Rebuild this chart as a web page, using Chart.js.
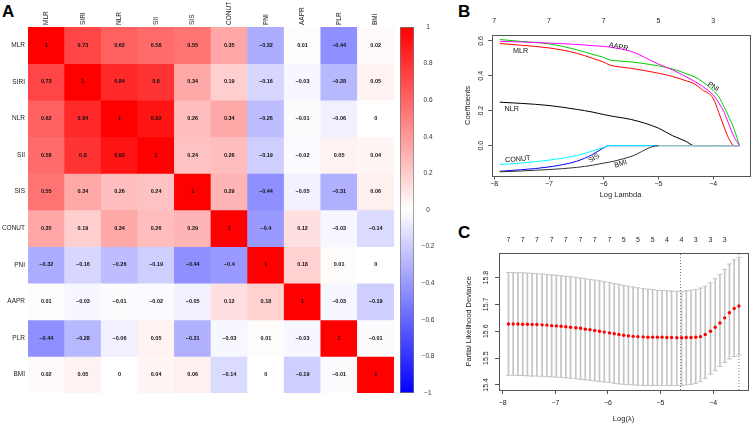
<!DOCTYPE html>
<html>
<head>
<meta charset="utf-8">
<script src="https://cdn.jsdelivr.net/npm/chart.js@4.4.1/dist/chart.umd.min.js"></script>
<style>
  body { margin: 0; background: #fff; width: 753px; height: 425px; overflow: hidden; position: relative; }
  canvas { position: absolute; }
  .tag { position: absolute; font: bold 17px "Liberation Sans", Arial, sans-serif; line-height: 17px; color: #000; }
</style>
</head>
<body>
<div class="tag" style="left:2px;top:3px">A</div>
<div class="tag" style="left:458px;top:3px">B</div>
<div class="tag" style="left:458px;top:224px">C</div>
<canvas id="heat" width="400" height="425" style="left:0;top:0"></canvas>
<canvas id="legend" width="55" height="425" style="left:395px;top:0"></canvas>
<canvas id="path" width="303" height="212" style="left:450px;top:0"></canvas>
<canvas id="cv" width="303" height="210" style="left:450px;top:215px"></canvas>
<script>
// ---- panel A: correlation matrix ----
const vars = ['MLR', 'SIRI', 'NLR', 'SII', 'SIS', 'CONUT', 'PNI', 'AAPR', 'PLR', 'BMI'];
const corr = [
  [1, 0.73, 0.62, 0.58, 0.55, 0.35, -0.32, 0.01, -0.44, 0.02],
  [0.73, 1, 0.84, 0.8, 0.34, 0.19, -0.16, -0.03, -0.28, 0.05],
  [0.62, 0.84, 1, 0.92, 0.26, 0.34, -0.26, -0.01, -0.06, 0],
  [0.58, 0.8, 0.92, 1, 0.24, 0.26, -0.19, -0.02, 0.05, 0.04],
  [0.55, 0.34, 0.26, 0.24, 1, 0.29, -0.44, -0.05, -0.31, 0.06],
  [0.35, 0.19, 0.34, 0.26, 0.29, 1, -0.4, 0.12, -0.03, -0.14],
  [-0.32, -0.16, -0.26, -0.19, -0.44, -0.4, 1, 0.18, 0.01, 0],
  [0.01, -0.03, -0.01, -0.02, -0.05, 0.12, 0.18, 1, -0.03, -0.19],
  [-0.44, -0.28, -0.06, 0.05, -0.31, -0.03, 0.01, -0.03, 1, -0.01],
  [0.02, 0.05, 0, 0.04, 0.06, -0.14, 0, -0.19, -0.01, 1]
];

// ---- panel B: coefficient paths ----
const logLambda = [-7.9, -7.5, -7.0, -6.5, -6.2, -6.0, -5.9, -5.8, -5.5, -5.0, -4.75, -4.5, -4.35, -4.2, -4.0, -3.9, -3.8, -3.7, -3.62, -3.52];
const coefPNI   = [0.608, 0.597, 0.583, 0.550, 0.523, 0.505, 0.492, 0.487, 0.480, 0.457, 0.440, 0.413, 0.395, 0.367, 0.315, 0.280, 0.220, 0.155, 0.095, 0];
const coefAAPR  = [0.598, 0.594, 0.588, 0.580, 0.573, 0.569, 0.565, 0.560, 0.540, 0.467, 0.435, 0.395, 0.370, 0.340, 0.290, 0.245, 0.190, 0.110, 0.050, 0];
const coefMLR   = [0.585, 0.575, 0.560, 0.530, 0.500, 0.478, 0.463, 0.455, 0.443, 0.415, 0.397, 0.372, 0.355, 0.320, 0.270, 0.190, 0.105, 0.030, 0, 0];
const coefNLR   = [0.249, 0.242, 0.230, 0.208, 0.192, 0.178, 0.172, 0.166, 0.150, 0.100, 0.058, 0.025, 0, 0, 0, 0, 0, 0, 0, 0];
const coefCONUT = [-0.108, -0.100, -0.083, -0.057, -0.030, -0.010, 0, 0, 0, 0, 0, 0, 0, 0, 0, 0, 0, 0, 0, 0];
const coefSIS   = [-0.147, -0.138, -0.122, -0.090, -0.050, -0.012, 0, 0, 0, 0, 0, 0, 0, 0, 0, 0, 0, 0, 0, 0];
const coefBMI   = [-0.150, -0.145, -0.137, -0.125, -0.112, -0.100, -0.095, -0.088, -0.062, 0, 0, 0, 0, 0, 0, 0, 0, 0, 0, 0];
const pathTicks = [-8, -7, -6, -5, -4];
const pathDf = [7, 7, 7, 5, 3];

// ---- panel C: cross-validation ----
const cvLogLambda = [-7.89, -7.80, -7.71, -7.62, -7.53, -7.44, -7.35, -7.25, -7.16, -7.07,
  -6.98, -6.89, -6.80, -6.71, -6.61, -6.52, -6.43, -6.34, -6.25, -6.16,
  -6.07, -5.97, -5.88, -5.79, -5.70, -5.61, -5.52, -5.43, -5.33, -5.24,
  -5.15, -5.06, -4.97, -4.88, -4.79, -4.69, -4.60, -4.51, -4.42, -4.33,
  -4.24, -4.15, -4.05, -3.96, -3.87, -3.78, -3.69, -3.60, -3.51];
const cvMean = [15.627, 15.627, 15.627, 15.626, 15.626, 15.625, 15.625, 15.624, 15.623, 15.621,
  15.620, 15.619, 15.617, 15.615, 15.613, 15.611, 15.608, 15.606, 15.603, 15.600,
  15.597, 15.594, 15.591, 15.588, 15.585, 15.583, 15.581, 15.580, 15.579, 15.578,
  15.578, 15.578, 15.578, 15.577, 15.577, 15.576, 15.576, 15.577, 15.577, 15.578,
  15.580, 15.588, 15.600, 15.615, 15.631, 15.650, 15.669, 15.685, 15.694];
const cvUpper = [15.819, 15.819, 15.818, 15.818, 15.817, 15.816, 15.815, 15.813, 15.812, 15.810,
  15.809, 15.807, 15.805, 15.803, 15.801, 15.798, 15.796, 15.793, 15.791, 15.788,
  15.785, 15.782, 15.778, 15.775, 15.771, 15.768, 15.765, 15.762, 15.759, 15.757,
  15.755, 15.753, 15.752, 15.751, 15.750, 15.749, 15.749, 15.751, 15.753, 15.756,
  15.761, 15.768, 15.781, 15.796, 15.812, 15.831, 15.851, 15.866, 15.876];
const cvLower = [15.436, 15.436, 15.435, 15.435, 15.434, 15.433, 15.433, 15.432, 15.431, 15.430,
  15.429, 15.428, 15.426, 15.425, 15.423, 15.421, 15.419, 15.417, 15.415, 15.413,
  15.411, 15.409, 15.406, 15.404, 15.402, 15.401, 15.400, 15.399, 15.398, 15.398,
  15.398, 15.398, 15.398, 15.398, 15.398, 15.398, 15.398, 15.400, 15.402, 15.405,
  15.412, 15.424, 15.440, 15.453, 15.469, 15.484, 15.497, 15.506, 15.512];
const cvDf = [7, 7, 7, 7, 7, 7, 7, 7, 5, 5, 5, 4, 4, 3, 3, 3];
const cvTicks = [-8, -7, -6, -5, -4];
const cvYTicks = [15.4, 15.5, 15.6, 15.7, 15.8];
const lambdaMin = -4.62;
const lambda1se = -3.51;

Chart.defaults.font.family = '"Liberation Sans", Arial, sans-serif';
Chart.defaults.color = '#222';

const minus = v => (v < 0 ? '\u2212' : '') + String(Math.abs(Math.round(v * 100) / 100));

function corrColor(v) {
  const t = Math.round(255 * (1 - Math.abs(v)));
  return v >= 0 ? `rgb(255,${t},${t})` : `rgb(${t},${t},255)`;
}

const cellText = {
  id: 'cellText',
  afterDatasetsDraw(chart) {
    const ctx = chart.ctx;
    ctx.save();
    ctx.font = 'bold 5.5px "Liberation Sans", Arial, sans-serif';
    ctx.fillStyle = '#111';
    ctx.textAlign = 'center';
    ctx.textBaseline = 'middle';
    chart.data.datasets.forEach((ds, i) => {
      chart.getDatasetMeta(i).data.forEach((bar, j) => {
        ctx.fillText(minus(corr[i][j]), bar.x, (bar.y + bar.base) / 2);
      });
    });
    ctx.restore();
  }
};

const frame = {
  id: 'frame',
  afterDraw(chart) {
    const a = chart.chartArea, ctx = chart.ctx;
    ctx.save();
    ctx.strokeStyle = '#555';
    ctx.lineWidth = 1;
    ctx.strokeRect(Math.round(a.left) + 0.5, Math.round(a.top) + 0.5,
      Math.round(a.right - a.left), Math.round(a.bottom - a.top));
    ctx.restore();
  }
};

// heatmap: one stacked bar per row, one segment per cell
new Chart(document.getElementById('heat'), {
  type: 'bar',
  data: {
    labels: vars,
    datasets: corr.map((row, i) => ({
      label: vars[i],
      data: row.map(() => 1),
      backgroundColor: row.map(corrColor),
      borderWidth: 0,
      barPercentage: 1,
      categoryPercentage: 1
    }))
  },
  options: {
    responsive: false,
    animation: false,
    events: [],
    layout: { padding: { left: 0, top: 0, right: 6, bottom: 32 } },
    plugins: { legend: { display: false }, tooltip: { enabled: false } },
    scales: {
      x: {
        position: 'top',
        stacked: true,
        grid: { display: false, drawTicks: false },
        border: { display: false },
        ticks: { minRotation: 90, maxRotation: 90, padding: 2, labelOffset: 7.8, font: { size: 6.5 }, color: '#222' },
        afterFit: s => { s.height = 27; }
      },
      y: { display: false, stacked: true, min: 0, max: 10, reverse: true },
      yRow: {
        type: 'category',
        labels: vars,
        offset: true,
        position: 'left',
        grid: { display: false, drawTicks: false },
        border: { display: false },
        ticks: { padding: 3, font: { size: 6.5 }, color: '#222' },
        afterFit: s => { s.width = 28; }
      }
    }
  },
  plugins: [cellText]
});

// colour key
new Chart(document.getElementById('legend'), {
  type: 'bar',
  data: {
    labels: [''],
    datasets: [{
      data: [[-1, 1]],
      backgroundColor: c => {
        const a = c.chart.chartArea;
        if (!a) return '#fff';
        const g = c.chart.ctx.createLinearGradient(0, a.bottom, 0, a.top);
        g.addColorStop(0, '#0000ff');
        g.addColorStop(0.5, '#ffffff');
        g.addColorStop(1, '#ff0000');
        return g;
      },
      borderColor: '#777',
      borderWidth: 1,
      borderSkipped: false,
      barPercentage: 1,
      categoryPercentage: 1
    }]
  },
  options: {
    responsive: false,
    animation: false,
    events: [],
    layout: { padding: { left: 5, top: 27, right: 0, bottom: 32 } },
    plugins: { legend: { display: false }, tooltip: { enabled: false } },
    scales: {
      x: { display: false },
      y: {
        position: 'right',
        min: -1, max: 1,
        grid: { display: false, drawTicks: false },
        border: { display: false },
        ticks: { stepSize: 0.2, crossAlign: 'center', padding: 7.6, font: { size: 6.5 }, color: '#333',
          callback: v => minus(Math.round(v * 10) / 10) },
        afterFit: s => { s.width = 36; }
      }
    }
  }
});

// coefficient path labels, in data units
const pathNotes = [
  { text: 'MLR', x: -7.52, y: 0.544, rot: 0 },
  { text: 'AAPR', x: -5.73, y: 0.566, rot: 12 },
  { text: 'PNI', x: -4.00, y: 0.338, rot: 32 },
  { text: 'NLR', x: -7.68, y: 0.209, rot: 0 },
  { text: 'CONUT', x: -7.57, y: -0.078, rot: -5 },
  { text: 'SIS', x: -6.18, y: -0.072, rot: -30 },
  { text: 'BMI', x: -5.69, y: -0.105, rot: -18 }
];
const pathText = {
  id: 'pathText',
  afterDatasetsDraw(chart) {
    const ctx = chart.ctx, sx = chart.scales.x, sy = chart.scales.y;
    ctx.save();
    ctx.font = '7.2px "Liberation Sans", Arial, sans-serif';
    ctx.fillStyle = '#111';
    ctx.textAlign = 'center';
    ctx.textBaseline = 'middle';
    pathNotes.forEach(n => {
      ctx.save();
      ctx.translate(sx.getPixelForValue(n.x), sy.getPixelForValue(n.y));
      ctx.rotate(n.rot * Math.PI / 180);
      ctx.fillText(n.text, 0, 0);
      ctx.restore();
    });
    ctx.restore();
  }
};

const pathSeries = [
  { coef: coefBMI, color: '#333333', zeroColor: '#b4b4b4' },
  { coef: coefCONUT, color: '#00ffff' },
  { coef: coefSIS, color: '#0000ff' },
  { coef: coefNLR, color: '#000000' },
  { coef: coefMLR, color: '#ff0000' },
  { coef: coefAAPR, color: '#ff00ff' },
  { coef: coefPNI, color: '#00cd00' }
];

const axisGrid = { display: true, drawOnChartArea: false, drawTicks: true, tickLength: 3.5, color: '#555' };
const tickFont = { size: 7 };

new Chart(document.getElementById('path'), {
  type: 'line',
  data: {
    datasets: pathSeries.map(s => ({
      data: logLambda.map((x, i) => ({ x, y: s.coef[i] })),
      borderColor: s.color,
      borderWidth: 1,
      pointRadius: 0,
      cubicInterpolationMode: 'monotone',
      segment: s.zeroColor ? {
        borderColor: c => (c.p0.parsed.y === 0 && c.p1.parsed.y === 0) ? s.zeroColor : undefined
      } : undefined
    }))
  },
  options: {
    responsive: false,
    animation: false,
    events: [],
    layout: { padding: { left: 0, top: 0, right: 3.7, bottom: 0 } },
    plugins: { legend: { display: false }, tooltip: { enabled: false } },
    scales: {
      x: {
        type: 'linear', min: -8.047, max: -3.342,
        afterBuildTicks: s => { s.ticks = pathTicks.map(v => ({ value: v })); },
        grid: axisGrid,
        border: { display: false },
        ticks: { autoSkip: false, padding: 0.8, font: tickFont, callback: v => minus(v) },
        title: { display: true, text: 'Log Lambda', font: { size: 7.5 }, color: '#222', padding: { bottom: 12.5 } },
        afterFit: s => { s.height = 36; }
      },
      xTop: {
        type: 'linear', position: 'top', min: -8.047, max: -3.342,
        afterBuildTicks: s => { s.ticks = pathTicks.map(v => ({ value: v })); },
        grid: { display: false, drawTicks: false },
        border: { display: false },
        ticks: { autoSkip: false, padding: 9.8, font: tickFont, callback: (v, i) => String(pathDf[i]) },
        afterFit: s => { s.height = 35; }
      },
      y: {
        type: 'linear', min: -0.174, max: 0.634,
        afterBuildTicks: s => { s.ticks = [0, 0.2, 0.4, 0.6].map(v => ({ value: v })); },
        grid: axisGrid,
        border: { display: false },
        ticks: { autoSkip: false, minRotation: 90, maxRotation: 90, crossAlign: 'center', padding: 2.7, font: tickFont,
          callback: v => v.toFixed(1) },
        title: { display: true, text: 'Coefficients', font: { size: 7.5 }, color: '#222', padding: { top: 13.8 } },
        afterFit: s => { s.width = 41.7; }
      }
    }
  },
  plugins: [frame, pathText]
});

// cross-validation curve
const cvYMin = 15.381, cvYMax = 15.893;
const barGray = '#c4c4c4';
new Chart(document.getElementById('cv'), {
  type: 'scatter',
  data: {
    datasets: [
      {
        data: cvLogLambda.map((x, i) => ({ x, y: cvMean[i] })),
        pointRadius: 1.7, pointBackgroundColor: '#ff0000', pointBorderWidth: 0
      },
      {
        data: cvLogLambda.map((x, i) => ({ x, y: cvUpper[i] })),
        pointStyle: 'line', pointRadius: 2.5, pointBorderColor: barGray, pointBorderWidth: 1
      },
      {
        data: cvLogLambda.map((x, i) => ({ x, y: cvLower[i] })),
        pointStyle: 'line', pointRadius: 2.5, pointBorderColor: barGray, pointBorderWidth: 1
      },
      {
        type: 'bar',
        data: cvLogLambda.map((x, i) => ({ x, y: [cvLower[i], cvUpper[i]] })),
        backgroundColor: barGray, barThickness: 1, grouped: false, borderWidth: 0
      },
      {
        type: 'line',
        data: [{ x: lambdaMin, y: cvYMin }, { x: lambdaMin, y: cvYMax }],
        borderColor: '#777', borderWidth: 1, borderDash: [1, 2], pointRadius: 0
      },
      {
        type: 'line',
        data: [{ x: lambda1se, y: cvYMin }, { x: lambda1se, y: cvYMax }],
        borderColor: '#777', borderWidth: 1, borderDash: [1, 2], pointRadius: 0
      }
    ]
  },
  options: {
    responsive: false,
    animation: false,
    events: [],
    layout: { padding: { left: 0, top: 0, right: 2, bottom: 0 } },
    plugins: { legend: { display: false }, tooltip: { enabled: false } },
    scales: {
      x: {
        type: 'linear', min: -8.07, max: -3.337, offset: false,
        afterBuildTicks: s => { s.ticks = cvTicks.map(v => ({ value: v })); },
        grid: { ...axisGrid, tickLength: 4, offset: false },
        border: { display: false },
        ticks: { autoSkip: false, padding: 5.1, font: tickFont, callback: v => minus(v) },
        title: { display: true, text: 'Log(\u03bb)', font: { size: 7.5 }, color: '#222', padding: { bottom: 1.2 } },
        afterFit: s => { s.height = 35; }
      },
      xTop: {
        type: 'linear', position: 'top', min: -8.07, max: -3.337, offset: false,
        afterBuildTicks: s => {
          s.ticks = cvLogLambda.filter((x, i) => i % 3 === 0).slice(0, cvDf.length).map(v => ({ value: v }));
        },
        grid: { display: false, drawTicks: false, offset: false },
        border: { display: false },
        ticks: { autoSkip: false, padding: 8.5, font: tickFont, callback: (v, i) => String(cvDf[i]) },
        afterFit: s => { s.height = 37.7; }
      },
      y: {
        type: 'linear', min: cvYMin, max: cvYMax,
        afterBuildTicks: s => { s.ticks = cvYTicks.map(v => ({ value: v })); },
        grid: { ...axisGrid, tickLength: 4 },
        border: { display: false },
        ticks: { autoSkip: false, minRotation: 90, maxRotation: 90, crossAlign: 'center', padding: 2, font: tickFont,
          callback: v => v.toFixed(1) },
        title: { display: true, text: 'Partial Likelihood Deviance', font: { size: 7.5 }, color: '#222', padding: { top: 14.8 } },
        afterFit: s => { s.width = 49; }
      }
    }
  },
  plugins: [frame]
});
</script>
</body>
</html>
